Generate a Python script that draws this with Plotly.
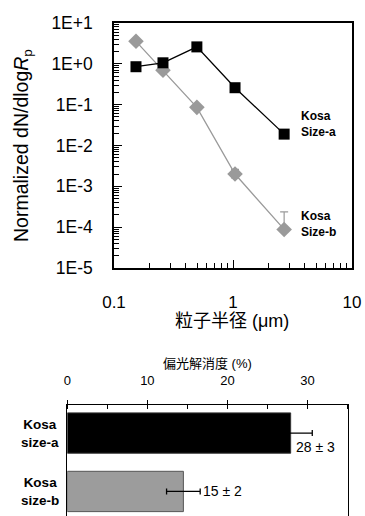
import plotly.graph_objects as go

# ---- data ----
radius_um = [0.153, 0.258, 0.497, 1.04, 2.69]
size_a_dndlogr = [0.85, 1.06, 2.6, 0.26, 0.019]
size_b_dndlogr = [3.56, 0.70, 0.086, 0.0020, 8.8e-5]
size_b_err_plus = [0, 0, 0, 0.0006, 1.5e-4]
size_b_err_minus = [0, 0, 0, 0.0004, 0]

y_tickvals = [1e-5, 1e-4, 1e-3, 1e-2, 1e-1, 1, 10]
y_ticktext = ["1E-5", "1E-4", "1E-3", "1E-2", "1E-1", "1E+0", "1E+1"]
x_tickvals = [0.1, 1, 10]
x_ticktext = ["0.1", "1", "10"]

bar_categories = ["Kosa<br>size-a", "Kosa<br>size-b"]
depolarization = [27.9, 14.5]
depolarization_err = [2.7, 2.1]
bar_value_labels = ["28 \u00b1 3", "15 \u00b1 2"]
bar_ticks = [0, 10, 20, 30]

FONT = "Liberation Sans, Arial, Noto Sans CJK JP, sans-serif"
W, H = 365, 516

fig = go.Figure()

fig.add_trace(go.Scatter(
    x=radius_um, y=size_b_dndlogr, mode="lines+markers",
    line=dict(color="#9a9a9a", width=1.3),
    marker=dict(symbol="diamond", size=12, color="#9a9a9a"),
    error_y=dict(type="data", array=size_b_err_plus, arrayminus=size_b_err_minus,
                 color="#9a9a9a", thickness=1.2, width=4),
    xaxis="x", yaxis="y", showlegend=False))

fig.add_trace(go.Scatter(
    x=radius_um, y=size_a_dndlogr, mode="lines+markers",
    line=dict(color="black", width=1.3),
    marker=dict(symbol="square", size=11, color="black"),
    xaxis="x", yaxis="y", showlegend=False))

fig.add_trace(go.Bar(
    y=bar_categories, x=depolarization, orientation="h",
    marker=dict(color=["#000000", "#9c9c9c"], line=dict(color=["#333333", "#555555"], width=1)),
    width=0.69,
    error_x=dict(type="data", array=depolarization_err, color="#000000", thickness=1.3, width=3),
    xaxis="x2", yaxis="y2", showlegend=False))

fig.update_layout(
    width=W, height=H,
    margin=dict(l=0, r=0, t=0, b=0, autoexpand=False),
    paper_bgcolor="white", plot_bgcolor="white",
    font=dict(family=FONT, color="black"),
    xaxis=dict(
        type="log", domain=[114/W, 352/W], anchor="y",
        range=[-1, 1], tickvals=x_tickvals, ticktext=x_ticktext,
        ticks="inside", ticklen=8, tickwidth=1, tickcolor="black",
        minor=dict(dtick="D1", ticks="inside", ticklen=5, tickcolor="black", showgrid=False),
        showline=True, linecolor="black", linewidth=1.5, mirror=True,
        showgrid=False, zeroline=False,
        tickfont=dict(size=17), ticklabelstandoff=18,
    ),
    yaxis=dict(
        type="log", domain=[1-268/H, 1-23/H], anchor="x",
        range=[-5, 1], tickvals=y_tickvals, ticktext=y_ticktext,
        ticks="inside", ticklen=8, tickwidth=1, tickcolor="black",
        minor=dict(dtick="D1", ticks="inside", ticklen=5, tickcolor="black", showgrid=False),
        showline=True, linecolor="black", linewidth=1.5, mirror=True,
        showgrid=False, zeroline=False,
        tickfont=dict(size=17.5), ticklabelstandoff=16,
    ),
    xaxis2=dict(
        domain=[67.3/W, 348.3/W], anchor="y2", side="top",
        range=[0, 35.1], tickvals=bar_ticks,
        ticks="outside", ticklen=4, tickwidth=1, tickcolor="black",
        minor=dict(dtick=5, ticks="inside", ticklen=4, tickcolor="black", showgrid=False),
        showline=True, linecolor="black", linewidth=1, mirror=False,
        showgrid=False, zeroline=False,
        tickfont=dict(size=13), ticklabelstandoff=10,
    ),
    yaxis2=dict(
        domain=[0, 1-405/H], anchor="x2", type="category",
        range=[1.42, -0.48], showticklabels=False, ticks="",
        showline=True, linecolor="black", linewidth=1, mirror=True,
        showgrid=False, zeroline=False,
    ),
)

annotations = [
    dict(text="Normalized dN/dlog<i>R</i><sub>p</sub>", x=22/W, y=1-146/H, xref="paper", yref="paper",
         textangle=-90, showarrow=False, font=dict(size=19.5), xanchor="center", yanchor="middle"),
    dict(text="粒子半径 (μm)", x=232/W, y=1-321/H, xref="paper", yref="paper",
         showarrow=False, font=dict(size=18), xanchor="center", yanchor="middle"),
    dict(text="<b>Kosa<br>Size-a</b>", x=299/W, y=1-124/H, xref="paper", yref="paper",
         showarrow=False, font=dict(size=12), xanchor="left", yanchor="middle", align="left"),
    dict(text="<b>Kosa<br>Size-b</b>", x=299/W, y=1-224/H, xref="paper", yref="paper",
         showarrow=False, font=dict(size=12), xanchor="left", yanchor="middle", align="left"),
    dict(text="偏光解消度 (%)", x=207/W, y=1-363/H, xref="paper", yref="paper",
         showarrow=False, font=dict(size=13), xanchor="center", yanchor="middle"),
]
for cat in bar_categories:
    annotations.append(dict(text="<b>" + cat + "</b>", x=40/W, y=cat, xref="paper", yref="y2",
                            showarrow=False, font=dict(size=13.5), xanchor="center", yanchor="middle",
                            align="center"))
# value labels
annotations.append(dict(text=bar_value_labels[0], x=depolarization[0], y=bar_categories[0],
                        xref="x2", yref="y2", xshift=3, yshift=-14, xanchor="left", yanchor="middle",
                        showarrow=False, font=dict(size=14)))
annotations.append(dict(text=bar_value_labels[1], x=depolarization[1] + depolarization_err[1],
                        y=bar_categories[1], xref="x2", yref="y2", xshift=1, yshift=0,
                        xanchor="left", yanchor="middle", showarrow=False, font=dict(size=14)))
fig.update_layout(annotations=annotations)

fig.write_html("out.html", config={"displayModeBar": False},
               post_script="document.body.style.margin='0';document.body.style.overflow='hidden';")
